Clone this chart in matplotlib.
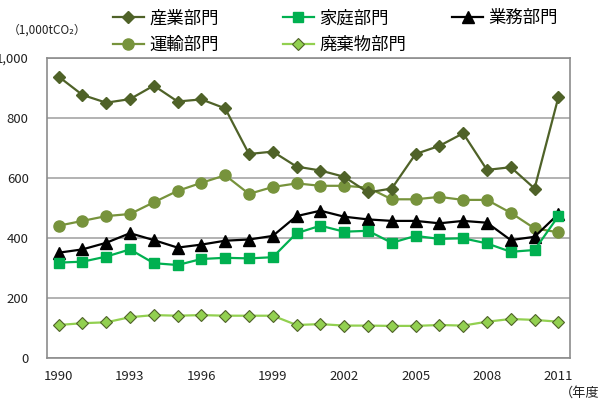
import numpy as np
import matplotlib
matplotlib.use('Agg')
from matplotlib import pyplot as plt

plt.rcParams['font.family'] = ['Noto Sans CJK JP', 'DejaVu Sans']

years = list(range(1990, 2012))
industry = [938, 877, 851, 863, 908, 855, 862, 832, 680, 688, 638, 625, 604, 552, 565,
            680, 707, 749, 627, 636, 565, 869]
transport = [441, 457, 473, 480, 519, 557, 584, 609, 547, 570, 582, 574, 574, 568, 529,
             529, 537, 527, 527, 484, 432, 419]
commercial = [351, 362, 384, 416, 393, 368, 378, 391, 395, 407, 473, 491, 471, 462, 457,
              457, 449, 457, 451, 393, 404, 480]
household = [318, 321, 338, 362, 316, 310, 330, 334, 332, 336, 416, 441, 421, 424, 384,
             407, 397, 399, 382, 354, 360, 473]
waste = [110, 116, 119, 136, 143, 141, 143, 141, 141, 141, 110, 113, 108, 108, 107,
         107, 110, 108, 121, 130, 127, 121]
yticks = [0, 200, 400, 600, 800, 1000]
ylabels = ['0', '200', '400', '600', '800', '1,000']

fig = plt.figure(figsize=(5.99, 4.0), dpi=100)
ax = fig.add_axes([0.078, 0.105, 0.874, 0.75])
x = np.arange(len(years))

h_ind, = ax.plot(x, industry, color='#4F6228', marker='D', ms=6.5, lw=1.6, label='産業部門')
h_tra, = ax.plot(x, transport, color='#77933C', marker='o', ms=8, lw=1.6, label='運輸部門')
h_hou, = ax.plot(x, household, color='#00B050', marker='s', ms=7.5, lw=1.6, label='家庭部門')
h_com, = ax.plot(x, commercial, color='black', marker='^', ms=8.5, lw=1.6, label='業務部門')
h_was, = ax.plot(x, waste, color='#92D050', marker='D', ms=6.5, lw=1.6,
                 markerfacecolor='#92D050', markeredgecolor='#4F6228', markeredgewidth=0.8,
                 label='廃棄物部門')
# household drawn above commercial like the reference
h_hou.set_zorder(2.5)
h_ind.set_zorder(2.6)

ax.set_xlim(-0.5, len(years) - 0.5)
ax.set_ylim(0, 1000)
ax.set_yticks(yticks)
ax.set_yticklabels(ylabels)
ax.set_xticks(x[::3])
ax.set_xticklabels([str(y) for y in years[::3]])
ax.tick_params(axis='y', length=0, pad=13, labelsize=9.5, colors='#222222')
ax.tick_params(axis='x', length=0, pad=9, labelsize=9.5, colors='#222222')
ax.yaxis.grid(True, color='#A6A6A6', lw=1.2)
ax.set_axisbelow(True)
for s in ax.spines.values():
    s.set_color('#8C8C8C')
    s.set_linewidth(1.2)

fig.text(0.013, 0.925, '（1,000tCO₂）', fontsize=8.5, color='#222222', va='center')
fig.text(0.935, 0.018, '（年度）', fontsize=9.5, color='#222222', va='center')

# one legend per column so the columns sit where the reference has them
cols = [([h_ind, h_tra], ['産業部門', '運輸部門'], 0.188),
        ([h_hou, h_was], ['家庭部門', '廃棄物部門'], 0.472),
        ([h_com], ['業務部門'], 0.755)]
for hs, labs, x0 in cols:
    fig.legend(hs, labs, frameon=False, loc='upper left', bbox_to_anchor=(x0, 0.977),
               borderpad=0, borderaxespad=0, fontsize=12.5, handlelength=1.8,
               labelspacing=0.5, handletextpad=0.3)

fig.savefig('out.png', dpi=100)
